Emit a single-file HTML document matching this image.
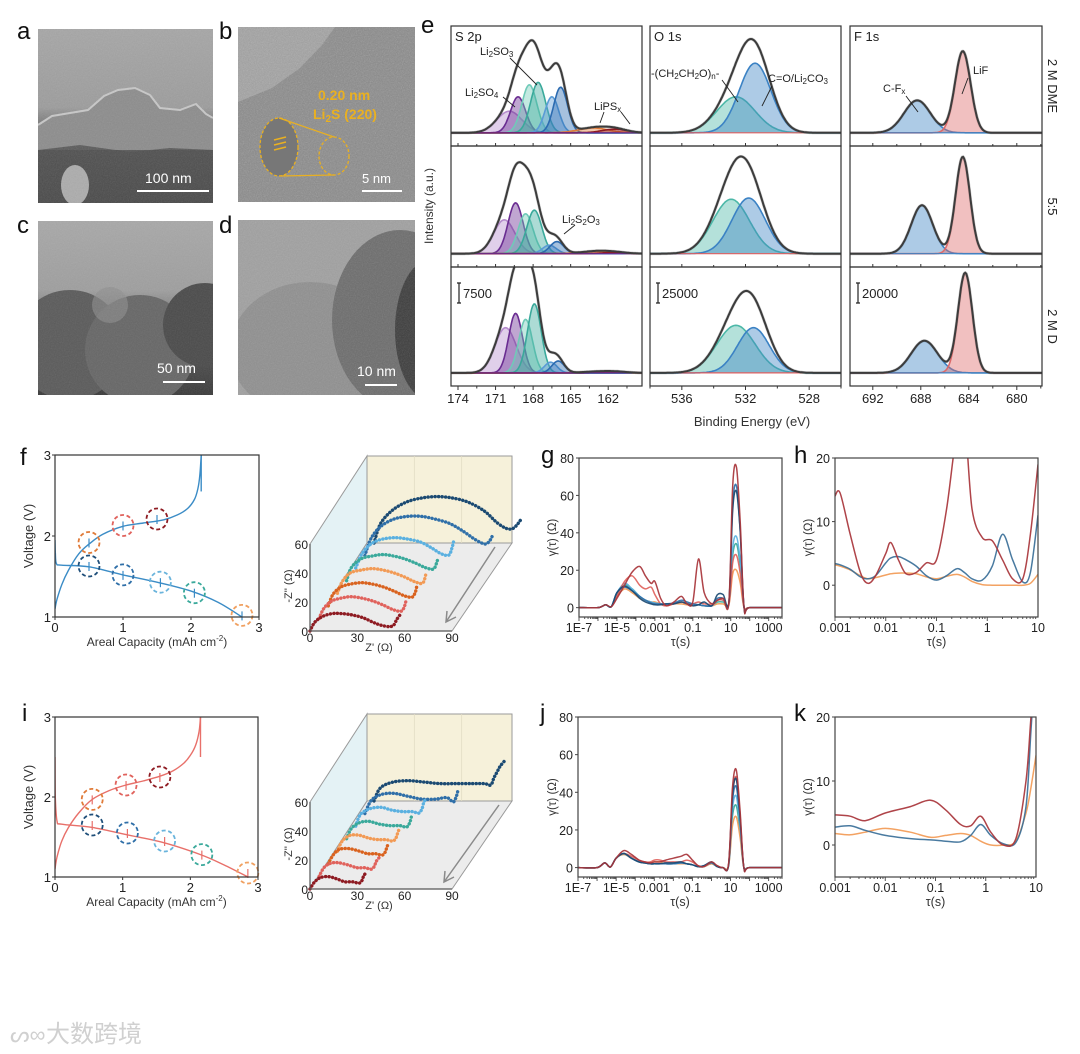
<!DOCTYPE html>
<html><head><meta charset="utf-8">
<style>
html,body{margin:0;padding:0;background:#fff}
svg{display:block;font-family:"Liberation Sans","WenQuanYi Zen Hei",sans-serif}
</style></head>
<body>
<svg id="fig" width="1080" height="1054" viewBox="0 0 1080 1054" xmlns="http://www.w3.org/2000/svg">
<defs>
  <filter id="noise" x="0" y="0" width="100%" height="100%">
    <feTurbulence type="fractalNoise" baseFrequency="0.85" numOctaves="2" seed="4"/>
    <feColorMatrix type="saturate" values="0"/>
  </filter>
  <linearGradient id="gA" x1="0" y1="0" x2="0" y2="1">
    <stop offset="0" stop-color="#a6a6a6"/><stop offset="0.45" stop-color="#9c9c9c"/>
    <stop offset="0.62" stop-color="#5e5e5e"/><stop offset="1" stop-color="#3a3a3a"/>
  </linearGradient>
  <linearGradient id="gC" x1="0" y1="0" x2="0" y2="1">
    <stop offset="0" stop-color="#a8a8a8"/><stop offset="0.4" stop-color="#9e9e9e"/>
    <stop offset="0.7" stop-color="#555"/><stop offset="1" stop-color="#3a3a3a"/>
  </linearGradient>
  <clipPath id="clipA"><rect x="38" y="29" width="175" height="174"/></clipPath>
  <clipPath id="clipB"><rect x="238" y="27" width="177" height="175"/></clipPath>
  <clipPath id="clipC"><rect x="38" y="221" width="175" height="174"/></clipPath>
  <clipPath id="clipD"><rect x="238" y="220" width="177" height="175"/></clipPath>
</defs>

<g font-size="24" fill="#111">
  <text x="17" y="39">a</text>
  <text x="219" y="39">b</text>
  <text x="17" y="233">c</text>
  <text x="219" y="233">d</text>
  <text x="421" y="33">e</text>
  <text x="20" y="465">f</text>
  <text x="541" y="463">g</text>
  <text x="794" y="463">h</text>
  <text x="22" y="721">i</text>
  <text x="540" y="721">j</text>
  <text x="794" y="721">k</text>
</g>

<g clip-path="url(#clipA)">
  <rect x="38" y="29" width="175" height="174" fill="url(#gA)"/>
  <path d="M38,125 L52,116 L70,113 L88,110 L104,96 L118,90 L135,88 L150,95 L160,108 L180,110 L196,104 L206,114 L213,118 L213,150 L38,150 Z" fill="#8c8c8c"/>
  <path d="M38,125 L52,116 L70,113 L88,110 L104,96 L118,90 L135,88 L150,95 L160,108 L180,110 L196,104 L206,114 L213,118" fill="none" stroke="#c8c8c8" stroke-width="2"/>
  <path d="M38,150 L80,145 L130,152 L170,148 L213,150 L213,203 L38,203 Z" fill="#4e4e4e" opacity="0.8"/>
  <ellipse cx="75" cy="185" rx="14" ry="20" fill="#c4c4c4" opacity="0.8"/>
  <rect x="38" y="29" width="175" height="174" filter="url(#noise)" opacity="0.18"/>
  <text x="145" y="183" font-size="14" fill="#fff">100 nm</text>
  <line x1="137" y1="191" x2="209" y2="191" stroke="#fff" stroke-width="2"/>
</g>

<g clip-path="url(#clipB)">
  <rect x="238" y="27" width="177" height="175" fill="#8a8a8a"/>
  <path d="M238,27 L335,27 L322,45 L300,68 L272,88 L238,102 Z" fill="#a2a2a2"/>
  <rect x="238" y="27" width="177" height="175" filter="url(#noise)" opacity="0.35"/>
  <text x="318" y="100" font-size="14" font-weight="bold" fill="#e9b021">0.20 nm</text>
  <text x="313" y="119" font-size="14" font-weight="bold" fill="#e9b021">Li<tspan font-size="10" dy="3">2</tspan><tspan dy="-3">S (220)</tspan></text>
  <ellipse cx="279" cy="147" rx="19" ry="29" fill="#777" stroke="#e9b021" stroke-width="1.3" stroke-dasharray="3 2"/>
  <g stroke="#e9b021" stroke-width="1.5"><line x1="274" y1="140" x2="286" y2="137"/><line x1="274" y1="145" x2="286" y2="142"/><line x1="274" y1="150" x2="286" y2="147"/></g>
  <ellipse cx="334" cy="156" rx="15" ry="19" fill="none" stroke="#e9b021" stroke-width="1.3" stroke-dasharray="3 2"/>
  <line x1="279" y1="118" x2="334" y2="137" stroke="#e9b021" stroke-width="1.2"/>
  <line x1="279" y1="176" x2="334" y2="175" stroke="#e9b021" stroke-width="1.2"/>
  <text x="362" y="183" font-size="13" fill="#fff">5 nm</text>
  <line x1="362" y1="191" x2="402" y2="191" stroke="#fff" stroke-width="2"/>
</g>

<g clip-path="url(#clipC)">
  <rect x="38" y="221" width="175" height="174" fill="url(#gC)"/>
  <circle cx="70" cy="345" r="55" fill="#5a5a5a"/>
  <circle cx="140" cy="350" r="55" fill="#666"/>
  <circle cx="205" cy="325" r="42" fill="#4a4a4a"/>
  <circle cx="110" cy="305" r="18" fill="#8e8e8e" opacity="0.6"/>
  <rect x="38" y="221" width="175" height="174" filter="url(#noise)" opacity="0.15"/>
  <text x="157" y="373" font-size="14" fill="#fff">50 nm</text>
  <line x1="163" y1="382" x2="205" y2="382" stroke="#fff" stroke-width="2"/>
</g>

<g clip-path="url(#clipD)">
  <rect x="238" y="220" width="177" height="175" fill="#a0a0a0"/>
  <ellipse cx="310" cy="350" rx="80" ry="68" fill="#8f8f8f"/>
  <ellipse cx="400" cy="320" rx="68" ry="90" fill="#6c6c6c"/>
  <ellipse cx="430" cy="330" rx="35" ry="70" fill="#3c3c3c"/>
  <rect x="238" y="220" width="177" height="175" filter="url(#noise)" opacity="0.22"/>
  <text x="357" y="376" font-size="14" fill="#fff">10 nm</text>
  <line x1="365" y1="385" x2="397" y2="385" stroke="#fff" stroke-width="2"/>
</g>

<g fill="#d0d0d0">
  <text x="10" y="1042" font-size="22" font-family="Liberation Sans, sans-serif">ᔕ∞</text>
  <text x="46" y="1042" font-size="24" font-family="'WenQuanYi Zen Hei','Noto Sans CJK SC',sans-serif">大数跨境</text>
</g>

<g id="plots"></g>
</svg>

<script>
const xpsRowLabels = ['2 M DME', '5:5', '2 M D'];
const s2pPeaks = [
  [[169.9,1.0,0.18],[169.2,0.6,0.3],[168.3,0.6,0.4],[167.6,0.6,0.42],[166.5,0.55,0.3],[165.8,0.55,0.38],[163.2,1.2,0.04],[161.5,1.0,0.03]],
  [[170.3,0.85,0.28],[169.4,0.6,0.42],[168.6,0.6,0.33],[167.9,0.6,0.36],[166.7,0.55,0.07],[166.1,0.55,0.1],[163.0,1.2,0.02],[161.5,1.0,0.01]],
  [[170.2,0.85,0.38],[169.4,0.55,0.5],[168.6,0.55,0.45],[167.9,0.55,0.58],[166.6,0.5,0.09],[166.0,0.5,0.1],[163.0,1.2,0.01],[161.5,1.0,0.01]]
];
const o1sPeaks = [
  [[532.6,1.2,0.3],[531.4,1.0,0.58]],
  [[532.9,1.15,0.45],[531.8,1.05,0.46]],
  [[532.6,1.2,0.4],[531.5,1.0,0.38]]
];
const f1sPeaks = [
  [[688.3,1.1,0.27],[684.5,0.65,0.68]],
  [[687.9,0.9,0.4],[684.5,0.6,0.8]],
  [[687.7,1.1,0.27],[684.3,0.6,0.84]]
];
const s2pTicks = [174,171,168,165,162];
const o1sTicks = [536,532,528];
const f1sTicks = [692,688,684,680];
const xpsScaleLabels = ['7500','25000','20000'];

const fChargeCap = [0,0.03,0.1,0.2,0.35,0.5,0.7,1.0,1.3,1.6,1.8,1.95,2.05,2.1,2.13,2.15];
const fChargeV   = [1.1,1.22,1.4,1.58,1.78,1.9,2.02,2.12,2.16,2.2,2.26,2.34,2.45,2.58,2.75,3.0];
const fDisCap = [0,0.005,0.02,0.1,0.5,1.0,1.5,2.0,2.4,2.75];
const fDisV   = [1.95,1.8,1.66,1.64,1.62,1.52,1.43,1.32,1.18,1.0];
const fMarkCap = [0.5,1.0,1.5,0.5,1.0,1.55,2.05,2.75];
const fMarkV   = [1.92,2.13,2.21,1.63,1.52,1.43,1.3,1.02];
const iChargeCap = [0,0.03,0.1,0.2,0.35,0.55,0.8,1.05,1.3,1.55,1.75,1.9,2.0,2.08,2.13,2.15];
const iChargeV   = [1.1,1.25,1.45,1.62,1.8,1.97,2.08,2.15,2.2,2.26,2.33,2.42,2.52,2.65,2.82,3.0];
const iDisCap = [0,0.005,0.03,0.1,0.55,1.05,1.6,2.15,2.5,2.85];
const iDisV   = [2.5,2.0,1.7,1.66,1.62,1.53,1.43,1.28,1.15,1.0];
const iMarkCap = [0.55,1.05,1.55,0.55,1.07,1.62,2.17,2.85];
const iMarkV   = [1.97,2.15,2.25,1.65,1.55,1.45,1.28,1.05];
const voltTicksX = [0,1,2,3];
const voltTicksY = [1,2,3];

const fEisZre = [
  [0,3,8,14,20,27,34,40,45,50,53,55,57],
  [0,3,8,14,20,27,34,41,47,52,54,55],
  [0,3,8,14,21,28,35,42,48,53,55,56],
  [0,3,8,15,22,29,36,43,49,54,56],
  [0,3,9,16,23,30,37,44,50,55,57,58],
  [0,4,10,17,25,33,41,48,54,59,61,62],
  [0,4,10,18,27,36,45,54,62,70,76,79,81],
  [0,4,11,20,30,40,50,60,70,78,84,88,91,93]
];
const fEisZim = [
  [0,6,10,12,12,11,9,6,4,3,4,8,11],
  [0,7,12,14,15,14,12,9,6,5,8,12],
  [0,8,13,15,16,15,13,10,7,6,9,13],
  [0,8,14,16,17,16,14,11,8,7,13],
  [0,9,15,17,18,17,15,12,9,8,12,16],
  [0,10,17,20,21,20,18,14,10,9,14,18],
  [0,12,20,25,27,27,25,22,17,11,8,10,14],
  [0,13,22,28,31,32,31,28,22,14,10,10,13,16]
];
const iEisZre = [
  [0,3,7,12,17,22,27,31,33,34,36],
  [0,3,7,12,18,24,29,33,35,36,38],
  [0,3,7,13,19,25,30,34,36,37,38],
  [0,3,8,14,20,26,31,35,37,38,39],
  [0,3,8,14,21,28,34,38,40,41],
  [0,3,9,16,23,30,36,40,42,43,44],
  [0,4,10,18,27,36,45,52,56,58,59],
  [0,4,12,22,32,42,52,62,70,74,76,78,80,83]
];
const iEisZim = [
  [0,5,8,8.5,7,5,5,4,6,9,12],
  [0,6,9,9.5,8,6,6,5,7,10,13],
  [0,6,10,10.5,9,7,7,6,8,11,14],
  [0,7,11,11,9,8,8,7,9,12,15],
  [0,7,11,12,10,9,9,8,11,15],
  [0,8,12,13,11,10,10,9,12,16,18],
  [0,9,13,14,12,10,10,11,8,12,16],
  [0,9,13,14,13,12,12,12,12,11,16,20,24,28]
];
const eisTicksX = [0,30,60,90];
const eisTicksY = [0,20,40,60];

const drtLogTau = [-7,-6,-5.6,-5.3,-5,-4.6,-4.2,-3.8,-3.5,-3.2,-3,-2.7,-2.4,-2,-1.6,-1.3,-1,-0.7,-0.4,0,0.3,0.6,0.9,1.1,1.3,1.5,1.7,2,3.7];
const gDarkred = [0,0,1.5,0.5,5,12,19,22,17,13,14,5,1,3,6,2,3,26,8,2,4,5,3,65,75,45,0,0,0];
const gRed     = [0,0,1.5,0.5,6,14,17,12,10,11,7,2,1,2,3,2,2,3,2,2,4,4,2,24,28,18,0,0,0];
const gOrange  = [0,0,1.5,0.5,6,10,8,5,4,3,3,2,1,2,2,1.5,1,1.5,1,1,2,2,1.5,18,20,13,0,0,0];
const gTeal    = [0,0,1.5,0.5,7,12,10,6,4,3,2.5,2,1.5,2,3,2,1.5,1.5,1,1,3,3,2,28,34,22,0,0,0];
const gLblue   = [0,0,1.5,0.5,8,13,10,6,4,3,2.5,2,1.5,2,3,2,1.5,1.5,1,1,4,4,2,32,38,25,0,0,0];
const gBlue    = [0,0,1.5,0.5,8,11,9,6,4,2.5,2,2,2,2.5,4,3,2,1.5,1,1,5,5,3,55,65,40,0,0,0];
const gNavy    = [0,0,1.5,0.5,8,11.5,9,5,3,2,1.5,1.5,2,2,3,2,1,1.5,3,1,7,7,3,52,62,40,0,0,0];
const jDarkred = [0,0,2.5,0.3,5,9,7,4,3,2.5,3,3,4,5,6,7,4,1,0.5,3,1,0,2,42,52,30,0,0,0];
const jRed     = [0,0,2.5,0.3,5,7.5,6,4,3,3,4,4,3,3,3,4,3,1,0.5,2.5,1,0,2,38,48,28,0,0,0];
const jOrange  = [0,0,2.5,0.3,5,7,5,3,2.5,2.5,3,3,2,2,2,2,1.5,0.5,0.5,2,0.5,0,1,22,27,16,0,0,0];
const jTeal    = [0,0,2.5,0.3,5,7,5,3,2.5,2,2,2,2,2,2.5,2,1.5,0.5,0.5,2,0.5,0,1,27,33,19,0,0,0];
const jLblue   = [0,0,2.5,0.3,5,7.5,5,3,2.5,2,2,2,2,2,2.5,2,1.5,0.5,0.5,2.5,0.5,0,1,31,38,22,0,0,0];
const jBlue    = [0,0,2.5,0.3,5,7.5,5,3,2.5,2,2,2,2,2,2.5,2,1.5,0.5,1,2.5,0.5,0,1.5,35,43,25,0,0,0];
const jNavy    = [0,0,2.5,0.3,5,7.5,5,3,2.5,2,2,2,2.5,2.5,3,2,1.5,0.5,1,3,0.5,0,1.5,38,47,27,0,0,0];
const hLogTau  = [-3,-2.9,-2.7,-2.5,-2.35,-2.2,-2,-1.9,-1.75,-1.6,-1.4,-1.2,-1,-0.8,-0.6,-0.45,-0.3,-0.1,0.1,0.3,0.5,0.7,0.85,1];
const hDarkred = [14,14.5,8,2,0.3,1.5,5,6.7,4,1.8,2,3.5,4,12,24,26,12,7.5,7,4,1,1,8,19];
const hBlue    = [3.4,3.2,2.5,1.3,1,1.5,3.5,4.3,4.5,4,3,1.5,0.8,1.5,2.6,2,1,0.8,3,8,4,0.5,2,11];
const hOrange  = [3.2,3,2.4,1.5,1,1.2,1.6,1.8,1.9,1.9,1.8,1.3,1,1.4,1.7,1.3,0.6,0.1,0,0,0,0,0.3,1.7];
const kLogTau  = [-3,-2.7,-2.4,-2,-1.5,-1.1,-0.8,-0.5,-0.3,-0.1,0.1,0.35,0.6,0.8,0.9,1];
const kDarkred = [4.7,4.5,3.8,5,6,7,5.5,3.2,3,4.5,2,0,1,10,20,30];
const kBlue    = [2.8,3,2.3,1.5,1,0.8,0.6,0.5,1.5,3.2,1.5,0.2,0.4,6,18,30];
const kOrange  = [1.8,1.6,2,2.6,2,1.2,1.5,1.8,1.5,0.6,0,0,0.6,5,9,14];
const gTickVals = [-7,-5,-3,-1,1,3];
const gTickLabels = ['1E-7','1E-5','0.001','0.1','10','1000'];
const hTickVals = [-3,-2,-1,0,1];
const hTickLabels = ['0.001','0.01','0.1','1','10'];
const gYTicks = [0,20,40,60,80];
const hYTicks = [0,10,20];

const NS = 'http://www.w3.org/2000/svg';
const ROOT = document.getElementById('plots');
const COL = {darkred:'#8e1b22', salmon:'#e0625c', dorange:'#d9621e', orange:'#f29a55', teal:'#3aa99b', lblue:'#5ab0e0', blue:'#2f6fa8', navy:'#1b4a72'};
function mk(tag, a, p){ const e=document.createElementNS(NS,tag); for(const k in a) e.setAttribute(k,a[k]); (p||ROOT).appendChild(e); return e; }
function txt(x,y,s,a,p){ const t=mk('text',Object.assign({x:x,y:y},a||{}),p); t.textContent=s; return t; }
function smooth(pts){
  if(pts.length<2) return '';
  let d='M'+pts[0][0].toFixed(1)+','+pts[0][1].toFixed(1);
  for(let i=0;i<pts.length-1;i++){
    const p0=pts[i-1]||pts[i], p1=pts[i], p2=pts[i+1], p3=pts[i+2]||p2;
    const c1=[p1[0]+(p2[0]-p0[0])/6, p1[1]+(p2[1]-p0[1])/6];
    const c2=[p2[0]-(p3[0]-p1[0])/6, p2[1]-(p3[1]-p1[1])/6];
    d+=' C'+c1[0].toFixed(1)+','+c1[1].toFixed(1)+' '+c2[0].toFixed(1)+','+c2[1].toFixed(1)+' '+p2[0].toFixed(1)+','+p2[1].toFixed(1);
  }
  return d;
}
let clipId=0;
function clipRect(x,y,w,h){ const id='cp'+(clipId++); const defs=document.querySelector('defs'); const c=mk('clipPath',{id:id},defs); mk('rect',{x:x,y:y,width:w,height:h},c); return 'url(#'+id+')'; }
function richText(x,y,parts,a,p){
  const t=mk('text',Object.assign({x:x,y:y},a||{}),p);
  parts.forEach(pt=>{ const s=mk('tspan',{},t); s.textContent=pt[0]; if(pt[1]===1){s.setAttribute('font-size','8'); s.setAttribute('dy','2');} else if(pt[1]===2){s.setAttribute('dy','-2');} });
  return t;
}

(function(){
  const rowsY=[[26,146],[146,267],[267,386]];
  const cols=[
    {key:'s2p', title:'S 2p', x0:451, x1:642, e0:174.56, e1:159.3, peaks:s2pPeaks, ticks:s2pTicks, minorStep:1.5,
     colors:['#b58ccc','#6a2c91','#6fcab8','#3aa99b','#5a9bd6','#2c6bb0','#e07b39','#8e1b22'], base:'#6a2c91'},
    {key:'o1s', title:'O 1s', x0:650, x1:841, e0:538, e1:526, peaks:o1sPeaks, ticks:o1sTicks, minorStep:2,
     colors:['#4db8a8','#3b82c4'], base:'#e06060'},
    {key:'f1s', title:'F 1s', x0:850, x1:1042, e0:693.9, e1:677.9, peaks:f1sPeaks, ticks:f1sTicks, minorStep:2,
     colors:['#3b82c4','#dd6a6a'], base:'#3b82c4'}
  ];
  const g=mk('g',{});
  
  
  cols.forEach((c,ci)=>{
    const sx=e=>c.x0+(e-c.e0)/(c.e1-c.e0)*(c.x1-c.x0);
    rowsY.forEach((ry,ri)=>{
      const H=ry[1]-ry[0], yb=ry[1]-0.11*H;
      const pg=mk('g',{'clip-path':clipRect(c.x0,ry[0],c.x1-c.x0,H)},g);
      
      
      const N=180, env=new Array(N+1).fill(0), xs=[];
      for(let k=0;k<=N;k++){ xs.push(c.e0+(c.e1-c.e0)*k/N); }
      const comps=c.peaks[ri];
      const compPts=comps.map(pk=>xs.map((e,k)=>{ const v=pk[2]*Math.exp(-((e-pk[0])**2)/(2*pk[1]*pk[1])); env[k]+=v; return [sx(e), yb-v*H]; }));
      const raw=mk('path',{d:smooth(xs.map((e,k)=>[sx(e),yb-env[k]*H])),fill:'none',stroke:'#9a9a9a','stroke-width':3,opacity:0.55},pg);
      
      
      compPts.forEach((pts,pi)=>{
        const col=c.colors[pi%c.colors.length];
        const f=mk('path',{d:'M'+sx(c.e0)+','+yb+' L'+pts.map(p=>p[0].toFixed(1)+','+p[1].toFixed(1)).join(' L')+' L'+sx(c.e1)+','+yb+' Z',fill:col,'fill-opacity':0.42,stroke:'none'},pg);
        
        
        const l=mk('path',{d:'M'+pts.map(p=>p[0].toFixed(1)+','+p[1].toFixed(1)).join(' L'),fill:'none',stroke:col,'stroke-width':1.6},pg);
        
        
      });
      const bl=mk('line',{x1:c.x0,x2:c.x1,y1:yb,y2:yb,stroke:c.base,'stroke-width':1.2},pg);
      
      
      const ev=mk('path',{d:'M'+xs.map((e,k)=>sx(e).toFixed(1)+','+(yb-env[k]*H).toFixed(1)).join(' L'),fill:'none',stroke:'#3c3c3c','stroke-width':2},pg);
      
      
      const fr=mk('rect',{x:c.x0,y:ry[0],width:c.x1-c.x0,height:H,fill:'none',stroke:'#333','stroke-width':1.2},g);
      
      
      const tStart=Math.ceil(Math.min(c.e0,c.e1)/c.minorStep)*c.minorStep;
      for(let e=tStart;e<=Math.max(c.e0,c.e1);e+=c.minorStep){
        const isMaj=c.ticks.some(t=>Math.abs(t-e)<1e-6);
        const tk=mk('line',{x1:sx(e),x2:sx(e),y1:ry[1],y2:ry[1]+(ri===2?(isMaj?4:2.5):-(isMaj?3:2)),stroke:'#333','stroke-width':1},g);
        
        
      }
    });
    c.ticks.forEach(t=>{
      const tl=txt(sx(t),403,String(t),{'font-size':13,'text-anchor':'middle',fill:'#222'},g);
      
      
    });
    const tt=txt(c.x0+4,41,c.title,{'font-size':13,fill:'#222'},g);
    
    
    const sbx=c.x0+8;
    const sb=mk('path',{d:'M'+(sbx-2)+',283 H'+(sbx+2)+' M'+sbx+',283 V303 M'+(sbx-2)+',303 H'+(sbx+2),stroke:'#222','stroke-width':1.2,fill:'none'},g);
    
    
    const sl=txt(sbx+4,298,xpsScaleLabels[ci],{'font-size':13,fill:'#222'},g);
    
    
  });
  rowsY.forEach((ry,ri)=>{
    const cy=(ry[0]+ry[1])/2;
    const rl=txt(1048,cy,xpsRowLabels[ri],{'font-size':13,'text-anchor':'middle',fill:'#222',transform:'rotate(90 1048 '+cy+')'},g);
    
    
  });
  const yl=txt(433,206,'Intensity (a.u.)',{'font-size':12,'text-anchor':'middle',fill:'#333',transform:'rotate(-90 433 206)'},g);
  
  
  const xl=txt(752,426,'Binding Energy (eV)',{'font-size':13,'text-anchor':'middle',fill:'#333'},g);
  
  
  const A={'font-size':11,fill:'#222'};
  const a1=richText(480,55,[['Li',0],['2',1],['SO',2],['3',1]],A,g);
  
  
  const a2=richText(465,96,[['Li',0],['2',1],['SO',2],['4',1]],A,g);
  
  
  const a3=richText(594,110,[['LiPS',0],['x',1]],A,g);
  
  
  const a4=richText(562,223,[['Li',0],['2',1],['S',2],['2',1],['O',2],['3',1]],A,g);
  
  
  const a5=richText(651,77,[['-(CH',0],['2',1],['CH',2],['2',1],['O)',2],['n',1],['-',2]],A,g);
  
  
  const a6=richText(768,82,[['C=O/Li',0],['2',1],['CO',2],['3',1]],A,g);
  
  
  const a7=richText(883,92,[['C-F',0],['x',1]],A,g);
  
  
  const a8=txt(973,74,'LiF',A,g);
  
  
  const leaders=[[510,58,537,85],[503,97,515,107],[604,112,600,123],[621,112,630,124],[575,225,564,234],[722,80,738,102],[772,86,762,106],[906,96,918,112],[968,78,962,94]];
  leaders.forEach(L=>{ const ln=mk('line',{x1:L[0],y1:L[1],x2:L[2],y2:L[3],stroke:'#222','stroke-width':0.9},g);
    
     });
})();

function voltPlot(o){
  const g=mk('g',{});
  
  
  const sx=v=>o.x0+v/3*(o.x1-o.x0), sy=v=>o.y1-(v-1)/2*(o.y1-o.y0);
  const cg=mk('g',{'clip-path':clipRect(o.x0,o.y0-1,o.x1-o.x0,o.y1-o.y0+2)},g);
  const ch=mk('path',{d:smooth(o.cc.map((c,i)=>[sx(c),sy(o.cv[i])])),fill:'none',stroke:o.color,'stroke-width':1.4},cg);
  
  
  const last=o.cc.length-1;
  const dp=mk('line',{x1:sx(o.cc[last]),y1:sy(o.cv[last]),x2:sx(o.cc[last]),y2:sy(o.dropV),stroke:o.color,'stroke-width':1.4},cg);
  
  
  const dc=mk('path',{d:smooth(o.dc.map((c,i)=>[sx(c),sy(o.dv[i])])),fill:'none',stroke:o.color,'stroke-width':1.4},cg);
  
  
  o.mc.forEach((c,i)=>{
    const cx=sx(c), cy=sy(o.mv[i]);
    const ci=mk('circle',{cx:cx,cy:cy,r:10.5,fill:'none',stroke:o.mcol[i],'stroke-width':1.8,'stroke-dasharray':'4 2.6'},g);
    
    
    const tk=mk('line',{x1:cx,y1:cy-4,x2:cx,y2:cy+5,stroke:o.color,'stroke-width':1.2},g);
    
    
  });
  const fr=mk('rect',{x:o.x0,y:o.y0,width:o.x1-o.x0,height:o.y1-o.y0,fill:'none',stroke:'#333','stroke-width':1.2},g);
  
  
  voltTicksX.forEach(t=>{
    const l=txt(sx(t),o.y1+15,String(t),{'font-size':13,'text-anchor':'middle',fill:'#222'},g);
    
    
    const tk=mk('line',{x1:sx(t),x2:sx(t),y1:o.y1,y2:o.y1+3,stroke:'#333'},g);
    
    
  });
  voltTicksY.forEach(t=>{
    const l=txt(o.x0-4,sy(t)+5,String(t),{'font-size':13,'text-anchor':'end',fill:'#222'},g);
    
    
    const tk=mk('line',{x1:o.x0-3,x2:o.x0,y1:sy(t),y2:sy(t),stroke:'#333'},g);
    
    
  });
  const xt=mk('text',{x:(o.x0+o.x1)/2,y:o.y1+29,'font-size':12,'text-anchor':'middle',fill:'#333'},g);
  xt.textContent='Areal Capacity (mAh cm';
  const sup=mk('tspan',{'font-size':8,dy:-5},xt); sup.textContent='-2';
  const cl=mk('tspan',{dy:5},xt); cl.textContent=')';
  
  
  const yc=(o.y0+o.y1)/2;
  const yt=txt(33,yc,'Voltage (V)',{'font-size':13,'text-anchor':'middle',fill:'#333',transform:'rotate(-90 33 '+yc+')'},g);
  
  
}
const markerCols=['#e07b39','#e0625c','#8e1b22','#1f4f7a','#2f6fa8','#6ab4dc','#3aa99b','#f0a060'];
voltPlot({name:'voltage-profile-f',x0:55,x1:259,y0:455,y1:617,cc:fChargeCap,cv:fChargeV,dropV:2.55,dc:fDisCap,dv:fDisV,mc:fMarkCap,mv:fMarkV,mcol:markerCols,color:'#3b8cc6'});
voltPlot({name:'voltage-profile-i',x0:55,x1:258,y0:717,y1:877,cc:iChargeCap,cv:iChargeV,dropV:2.5,dc:iDisCap,dv:iDisV,mc:iMarkCap,mv:iMarkV,mcol:markerCols,color:'#e8706a'});

function eis3d(o){
  const g=mk('g',{});
  
  
  const X0=310, X1=452, Y0=o.y0, H=87, DX=57, DY=-88;
  const sx=v=>X0+v/90*(X1-X0), sy=v=>v/60*H;
  const lw=mk('polygon',{points:[[X0,Y0],[X0,Y0-H],[X0+DX,Y0-H+DY],[X0+DX,Y0+DY]].map(p=>p.join(',')).join(' '),fill:'#e4f2f5',stroke:'#9a9a9a','stroke-width':1},g);
  
  
  const bw=mk('polygon',{points:[[X0+DX,Y0+DY],[X0+DX,Y0-H+DY],[X1+DX+3,Y0-H+DY],[X1+DX+3,Y0+DY]].map(p=>p.join(',')).join(' '),fill:'#f6f1da',stroke:'#9a9a9a','stroke-width':1},g);
  
  
  const fl=mk('polygon',{points:[[X0,Y0],[X1,Y0],[X1+DX+3,Y0+DY],[X0+DX,Y0+DY]].map(p=>p.join(',')).join(' '),fill:'#ececec',stroke:'#9a9a9a','stroke-width':1},g);
  
  
  [1,2].forEach(k=>{ const gl=mk('line',{x1:X0+DX+(X1-X0)*k/3,y1:Y0+DY,x2:X0+DX+(X1-X0)*k/3,y2:Y0-H+DY,stroke:'#e2dcc4','stroke-width':0.8},g);
    
     });
  const ar=mk('path',{d:'M'+(o.arrow[0])+','+o.arrow[1]+' L'+o.arrow[2]+','+o.arrow[3]+' M'+(o.arrow[2]+1)+','+(o.arrow[3]-11)+' L'+o.arrow[2]+','+o.arrow[3]+' L'+(o.arrow[2]+10)+','+(o.arrow[3]-5),stroke:'#8a8a8a','stroke-width':1.5,fill:'none'},g);
  
  
  const cols=[COL.darkred,COL.salmon,COL.dorange,COL.orange,COL.teal,COL.lblue,COL.blue,COL.navy];
  for(let s=o.re.length-1;s>=0;s--){
    const ox=X0+s/7*(DX+7), oy=Y0+s/7*DY;
    const pts=o.re[s].map((r,i)=>[ox+(sx(r)-X0), oy-sy(o.im[s][i])]);
    const p=mk('path',{d:smooth(pts),fill:'none',stroke:cols[s],'stroke-width':3.4,'stroke-linecap':'round','stroke-dasharray':'0.1 3.4'},g);
    
    
  }
  const ax=mk('path',{d:'M'+X0+','+(Y0-H)+' V'+Y0+' H'+X1,stroke:'#555','stroke-width':1.2,fill:'none'},g);
  
  
  eisTicksX.forEach(t=>{ const l=txt(sx(t),Y0+11,String(t),{'font-size':12,'text-anchor':'middle',fill:'#222'},g);
    
     });
  eisTicksY.forEach(t=>{ const l=txt(X0-2,Y0-sy(t)+5,String(t),{'font-size':12,'text-anchor':'end',fill:'#222'},g);
    
     });
  const xt=txt(379,Y0+20,"Z' (Ω)",{'font-size':11,'text-anchor':'middle',fill:'#333'},g);
  
  
  const yc=Y0-45;
  const yt=txt(292,yc,"-Z'' (Ω)",{'font-size':11,'text-anchor':'middle',fill:'#333',transform:'rotate(-90 292 '+yc+')'},g);
  
  
}
eis3d({name:'nyquist-3d-f',y0:631,re:fEisZre,im:fEisZim,arrow:[495,547,446,622]});
eis3d({name:'nyquist-3d-i',y0:889,re:iEisZre,im:iEisZim,arrow:[499,805,444,882]});

function drtPlot(o){
  const g=mk('g',{});
  
  
  const sx=v=>o.x0+(v-o.lmin)/(o.lmax-o.lmin)*(o.x1-o.x0);
  const sy=v=>o.y1-(v-o.vmin)/(o.vmax-o.vmin)*(o.y1-o.y0);
  const cg=mk('g',{'clip-path':clipRect(o.x0,o.y0,o.x1-o.x0,o.y1-o.y0)},g);
  o.series.forEach(s=>{
    const p=mk('path',{d:smooth(s.x.map((x,i)=>[sx(x),sy(s.y[i])])),fill:'none',stroke:s.c,'stroke-width':1.5,opacity:0.92},cg);
    
    
  });
  const fr=mk('rect',{x:o.x0,y:o.y0,width:o.x1-o.x0,height:o.y1-o.y0,fill:'none',stroke:'#444','stroke-width':1.2},g);
  
  
  for(let d=Math.floor(o.lmin); d<o.lmax; d++){
    for(let k=1;k<10;k++){
      const v=d+Math.log10(k); if(v<o.lmin||v>o.lmax) continue;
      const tk=mk('line',{x1:sx(v),x2:sx(v),y1:o.y1,y2:o.y1+(k===1?4:2),stroke:'#444','stroke-width':0.9},g);
      
      
    }
  }
  o.xt.forEach((t,i)=>{ const l=txt(sx(t),o.y1+15,o.xtl[i],{'font-size':12.5,'text-anchor':'middle',fill:'#222'},g);
    
     });
  o.yt.forEach(t=>{ const l=txt(o.x0-5,sy(t)+5,String(t),{'font-size':12.5,'text-anchor':'end',fill:'#222'},g);
    
    
    const tk=mk('line',{x1:o.x0-3,x2:o.x0,y1:sy(t),y2:sy(t),stroke:'#444'},g);
    
     });
  const xt=txt((o.x0+o.x1)/2,o.y1+29,'τ(s)',{'font-size':12.5,'text-anchor':'middle',fill:'#333'},g);
  
  
  const yc=(o.y0+o.y1)/2;
  const yt=txt(o.ylx,yc,'γ(τ) (Ω)',{'font-size':11.5,'text-anchor':'middle',fill:'#333',transform:'rotate(-90 '+o.ylx+' '+yc+')'},g);
  
  
}
drtPlot({name:'drt-plot-g',x0:579,x1:782,y0:458,y1:617,lmin:-7,lmax:3.7,vmin:-5,vmax:80,xt:gTickVals,xtl:gTickLabels,yt:gYTicks,ylx:556,
  series:[{n:'teal',x:drtLogTau,y:gTeal,c:COL.teal},{n:'orange',x:drtLogTau,y:gOrange,c:COL.orange},{n:'lblue',x:drtLogTau,y:gLblue,c:COL.lblue},
          {n:'red',x:drtLogTau,y:gRed,c:COL.salmon},{n:'blue',x:drtLogTau,y:gBlue,c:COL.blue},{n:'navy',x:drtLogTau,y:gNavy,c:COL.navy},{n:'darkred',x:drtLogTau,y:gDarkred,c:'#a8343a'}]});
drtPlot({name:'drt-plot-h',x0:835,x1:1038,y0:458,y1:617,lmin:-3,lmax:1,vmin:-5,vmax:20,xt:hTickVals,xtl:hTickLabels,yt:hYTicks,ylx:812,
  series:[{n:'orange',x:hLogTau,y:hOrange,c:COL.orange},{n:'blue',x:hLogTau,y:hBlue,c:'#3a6f98'},{n:'darkred',x:hLogTau,y:hDarkred,c:'#a8343a'}]});
drtPlot({name:'drt-plot-j',x0:578,x1:782,y0:717,y1:877,lmin:-7,lmax:3.7,vmin:-5,vmax:80,xt:gTickVals,xtl:gTickLabels,yt:gYTicks,ylx:556,
  series:[{n:'teal',x:drtLogTau,y:jTeal,c:COL.teal},{n:'orange',x:drtLogTau,y:jOrange,c:COL.orange},{n:'lblue',x:drtLogTau,y:jLblue,c:COL.lblue},
          {n:'red',x:drtLogTau,y:jRed,c:COL.salmon},{n:'blue',x:drtLogTau,y:jBlue,c:COL.blue},{n:'navy',x:drtLogTau,y:jNavy,c:COL.navy},{n:'darkred',x:drtLogTau,y:jDarkred,c:'#a8343a'}]});
drtPlot({name:'drt-plot-k',x0:835,x1:1036,y0:717,y1:877,lmin:-3,lmax:1,vmin:-5,vmax:20,xt:hTickVals,xtl:hTickLabels,yt:hYTicks,ylx:812,
  series:[{n:'orange',x:kLogTau,y:kOrange,c:COL.orange},{n:'blue',x:kLogTau,y:kBlue,c:'#3a6f98'},{n:'darkred',x:kLogTau,y:kDarkred,c:'#a8343a'}]});
</script>
</body></html>
